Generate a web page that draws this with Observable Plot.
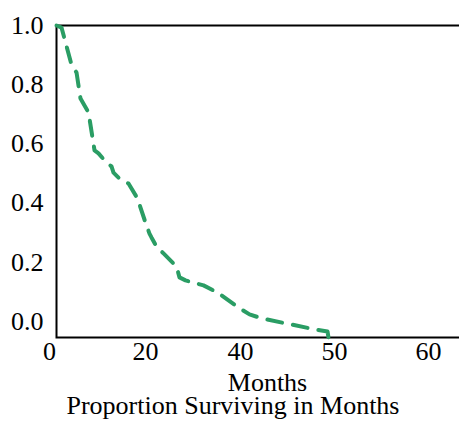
<!DOCTYPE html>
<html><head><meta charset="utf-8">
<script src="https://cdn.jsdelivr.net/npm/d3@7"></script>
<script src="https://cdn.jsdelivr.net/npm/@observablehq/plot@0.6"></script>
<style>
html,body{margin:0;padding:0;background:#fff;overflow:hidden;}
#chart svg{display:block;}
#title{position:relative;margin-top:-8px;font-family:"Liberation Serif",serif;font-size:26px;line-height:28px;text-align:center;width:459px;padding-left:7px;box-sizing:border-box;color:#000;}
</style></head><body><div id="chart"></div><div id="title">Proportion Surviving in Months</div>
<script>
const months    = [1.46, 2.5, 4.58, 5.63, 6.46, 8.13, 9.38, 10.21, 11.88, 12.92, 13.33, 14.38, 16.46, 18.33, 20.0, 20.84, 21.26, 22.32, 23.79, 26.53, 27.16, 28.42, 32.21, 35.16, 39.58, 40.96, 42.34, 47.98, 49.26, 49.36];
const surviving = [1.000, 0.993, 0.868, 0.841, 0.753, 0.706, 0.578, 0.568, 0.537, 0.524, 0.503, 0.486, 0.466, 0.416, 0.334, 0.297, 0.284, 0.253, 0.230, 0.186, 0.149, 0.139, 0.122, 0.098, 0.047, 0.024, 0.010, -0.027, -0.034, -0.054];
const xTicks = [0, 20, 40, 50, 60];
const yTicks = [0, 0.2, 0.4, 0.6, 0.8, 1.0];
const xLabel = "Months";

const data = months.map((m, i) => ({m, s: surviving[i]}));
const plot = Plot.plot({
  width: 459, height: 400,
  marginTop: 25, marginLeft: 56, marginRight: -19, marginBottom: 63,
  style: {fontFamily: "Liberation Serif", fontSize: "26px", color: "black", background: "transparent", overflow: "hidden"},
  x: {type: "linear", domain: [0, 20, 40, 50, 60, 70], range: [49, 145, 240, 334, 428, 522]},
  y: {domain: [-0.054, 1]},
  marks: [
    Plot.frame({stroke: "black", strokeWidth: 2}),
    Plot.axisX(xTicks, {tickSize: 0, tickPadding: 4, label: null, fontSize: 26}),
    Plot.axisY(yTicks, {tickSize: 0, tickPadding: 13, tickFormat: d3.format(".1f"), label: null, fontSize: 26}),
    Plot.text([xLabel], {frameAnchor: "bottom", lineAnchor: "middle", dy: 45, fontSize: 26, fill: "black"}),
    Plot.line(data, {x: "m", y: "s", stroke: "#2a9d64", strokeWidth: 4, strokeDasharray: "15,11"})
  ]
});
document.getElementById("chart").appendChild(plot);
</script></body></html>
